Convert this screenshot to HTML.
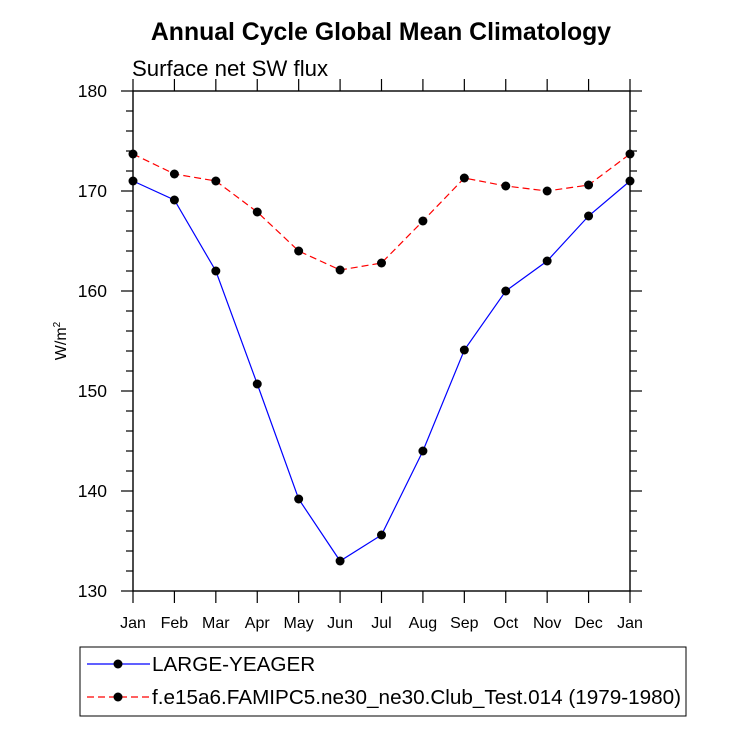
<!DOCTYPE html>
<html><head><meta charset="utf-8"><style>
body{margin:0;background:#fff;}
svg{display:block;font-family:"Liberation Sans",sans-serif;}
</style></head><body>
<svg id="chart" width="733" height="734" viewBox="0 0 733 734">
<text x="381" y="40" text-anchor="middle" font-size="24.8" font-weight="bold">Annual Cycle Global Mean Climatology</text>
<text x="132" y="76" font-size="22.2">Surface net SW flux</text>
<text transform="translate(66,341) rotate(-90)" text-anchor="middle" font-size="16">W/m<tspan font-size="10" dy="-6">2</tspan></text>
<rect x="133" y="91" width="497" height="500" fill="none" stroke="#000" stroke-width="1.4"/>
<g id="axes"></g>
<g id="series"></g>
<rect x="80" y="647" width="606" height="69" fill="none" stroke="#000" stroke-width="1"/>
<g>
<line x1="87" y1="664" x2="150" y2="664" stroke="#0000ff" stroke-width="1.2"/>
<circle cx="118" cy="664" r="4.5" fill="#000"/>
<text x="152" y="671" font-size="20.7">LARGE-YEAGER</text>
</g>
<g>
<line x1="87" y1="697" x2="150" y2="697" stroke="#ff0000" stroke-width="1.2" stroke-dasharray="7,4"/>
<circle cx="118" cy="697" r="4.5" fill="#000"/>
<text x="152" y="704" font-size="20.7">f.e15a6.FAMIPC5.ne30_ne30.Club_Test.014 (1979-1980)</text>
</g>
</svg>
<script>
const months=["Jan","Feb","Mar","Apr","May","Jun","Jul","Aug","Sep","Oct","Nov","Dec","Jan"];
const seriesBlue=[171,169.1,162,150.7,139.2,133,135.6,144,154.1,160,163,167.5,171];
const seriesRed=[173.7,171.7,171,167.9,164,162.1,162.8,167,171.3,170.5,170,170.6,173.7];
const yTicks=[130,140,150,160,170,180];
const NS="http://www.w3.org/2000/svg";
const x0=133,x1=630,y0=591,y1=91,ymin=130,ymax=180;
const xs=i=>x0+(x1-x0)*i/(months.length-1);
const ys=v=>y0-(v-ymin)/(ymax-ymin)*(y0-y1);
function mk(t,a,p){const e=document.createElementNS(NS,t);for(const k in a)e.setAttribute(k,a[k]);p.appendChild(e);return e;}
const ax=document.getElementById('axes');
months.forEach((m,i)=>{
 const x=xs(i);
 const t=mk('line',{x1:x,y1:y0,x2:x,y2:y0+12,stroke:'#000','stroke-width':1.2},ax);
 
 
 mk('line',{x1:x,y1:y1,x2:x,y2:y1-12,stroke:'#000','stroke-width':1.2},ax);
 const l=mk('text',{x:x,y:628,'text-anchor':'middle','font-size':'16'},ax);
 l.textContent=m;
 
 
});
for(let v=ymin;v<=ymax;v+=2){
 const y=ys(v),major=(v%10===0),L=major?12:7;
 mk('line',{x1:x0,y1:y,x2:x0-L,y2:y,stroke:'#000','stroke-width':1.2},ax);
 mk('line',{x1:x1,y1:y,x2:x1+L,y2:y,stroke:'#000','stroke-width':1.2},ax);
}
yTicks.forEach(v=>{
 const l=mk('text',{x:107,y:ys(v)+6,'text-anchor':'end','font-size':'17.5'},ax);
 l.textContent=v;
 
 
});
const sg=document.getElementById('series');
function draw(vals,color,dash,name){
 const p=mk('polyline',{points:vals.map((v,i)=>xs(i)+','+ys(v)).join(' '),fill:'none',stroke:color,'stroke-width':1.2},sg);
 if(dash)p.setAttribute('stroke-dasharray',dash);
 
 
 vals.forEach((v,i)=>{
  const c=mk('circle',{cx:xs(i),cy:ys(v),r:4.5,fill:'#000'},sg);
  
  
 });
}
draw(seriesBlue,'#0000ff',null,'large-yeager');
draw(seriesRed,'#ff0000','7,4','famipc5');
</script>
</body></html>
